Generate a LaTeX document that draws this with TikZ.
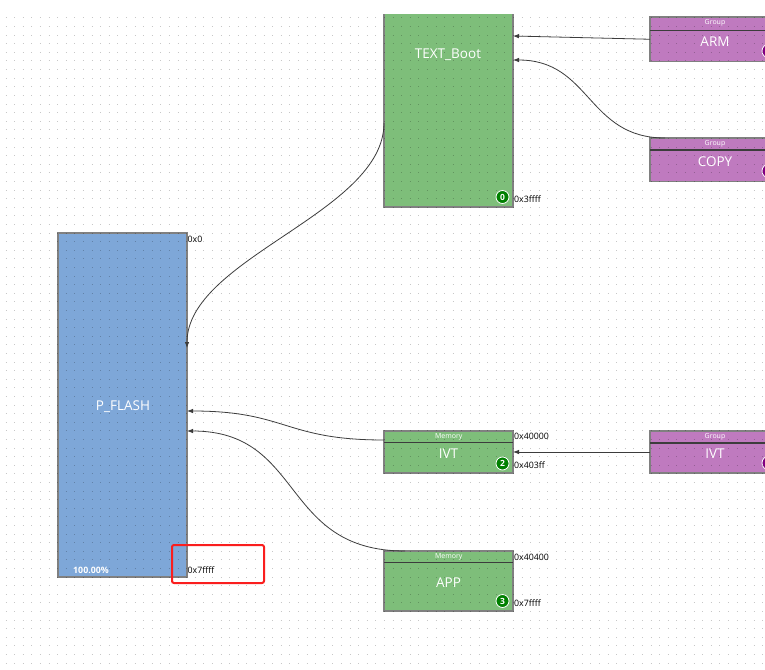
\documentclass[tikz,border=0pt]{standalone}
\usepackage{fontspec}
\setmainfont{Open Sans}
\usetikzlibrary{arrows.meta,calc}
\definecolor{memgreen}{RGB}{126,190,122}
\definecolor{flashblue}{RGB}{126,167,216}
\definecolor{grppurple}{RGB}{191,122,191}
\definecolor{bordergray}{RGB}{128,128,128}
\definecolor{linegray}{RGB}{60,60,60}
\definecolor{badgegreen}{RGB}{0,128,0}
\definecolor{badgepurple}{RGB}{128,0,128}
\definecolor{markred}{RGB}{250,30,30}
\begin{document}
\begin{tikzpicture}[x=1pt,y=-1pt,
  box/.style={draw=bordergray, line width=1.3pt, inner sep=0pt, outer sep=0pt, anchor=north west, minimum width=129pt},
  gbox/.style={box, fill=memgreen},
  pbox/.style={box, fill=grppurple, minimum width=135pt},
  hdrline/.style={draw=linegray, line width=1.3pt},
  conn/.style={draw=linegray, line width=0.8pt, -{Latex[length=6pt,width=4.5pt]}},
  lbl/.style={text=white, inner sep=0pt, font=\fontsize{13.5}{15}\selectfont},
  hdr/.style={text=white, inner sep=0pt, font=\fontsize{7}{8}\selectfont},
  addr/.style={anchor=west, inner sep=0pt, text=black, font=\fontsize{8.8}{10}\selectfont},
  badge/.style={circle, fill=badgegreen, draw=white, line width=0.8pt, minimum size=13pt, inner sep=0pt, text=white, font=\bfseries\fontsize{8.5}{10}\selectfont},
  pbadge/.style={circle, fill=badgepurple, draw=white, line width=0.8pt, minimum size=14pt, inner sep=0pt},
  dotline/.style={draw=black, draw opacity=0.22, line width=1pt, dash pattern=on 1pt off 7.6pt}
]
\useasboundingbox (0,0) rectangle (765,669);
\fill[white] (0,0) rectangle (765,669);
\clip (0,15) rectangle (765,669);

% boxes
\node[gbox, minimum height=197pt] (boot) at (384,10) {};
\node[box, fill=flashblue, minimum height=344pt] (pflash) at (58,233) {};
\node[gbox, minimum height=42pt] (ivt) at (384,431) {};
\node[gbox, minimum height=60pt] (app) at (384,551) {};
\node[pbox, minimum height=44.5pt] (arm) at (650,17) {};
\node[pbox, minimum height=43.5pt] (copy) at (650,138) {};
\node[pbox, minimum height=42pt] (ivtg) at (650,431) {};

% header lines
\draw[hdrline] ($(arm.north west)+(0,13.4)$) -- ($(arm.north east)+(0,13.4)$);
\draw[hdrline] ($(copy.north west)+(0,12)$) -- ($(copy.north east)+(0,12)$);
\draw[hdrline] ($(ivtg.north west)+(0,12)$) -- ($(ivtg.north east)+(0,12)$);
\draw[hdrline] ($(ivt.north west)+(0,11.6)$) -- ($(ivt.north east)+(0,11.6)$);
\draw[hdrline] ($(app.north west)+(0,11.7)$) -- ($(app.north east)+(0,11.7)$);

% purple badges at right edge
\node[pbadge] (armb) at (769,51) {};
\node[pbadge] (copyb) at (769,171) {};
\node[pbadge] (ivtgb) at (769,463) {};

% dot grid
\foreach \r in {0,...,75} {
  \draw[dotline] (5.5,18+\r*8.6) -- (766,18+\r*8.6);
}

% texts
\node[lbl] (bootlbl) at (448,55) {TEXT\_Boot};
\node[lbl] (pflashlbl) at (123,407) {P\_FLASH};
\node[lbl] (ivtlbl) at (448.5,454) {IVT};
\node[lbl] (applbl) at (448.5,583) {APP};
\node[lbl] (armlbl) at (715,41.5) {ARM};
\node[lbl] (copylbl) at (715,162) {COPY};
\node[lbl] (ivtglbl) at (715,454) {IVT};

\node[hdr] (armh) at (715,23.3) {Group};
\node[hdr] (copyh) at (715,144.3) {Group};
\node[hdr] (ivtgh) at (715,436.5) {Group};
\node[hdr] (ivth) at (448.7,436.5) {Memory};
\node[hdr] (apph) at (448.7,556.5) {Memory};

\node[badge] (b0) at (502.5,197) {0};
\node[badge] (b2) at (502.5,463.5) {2};
\node[badge] (b3) at (502.5,601) {3};

\node[inner sep=0pt, text=white, font=\bfseries\fontsize{8.8}{10}\selectfont] (pct) at (91,570) {100.00\%};

\node[addr] (a0) at (187.5,239) {0x0};
\node[addr] (a1) at (187.5,570) {0x7ffff};
\node[addr] (a2) at (514,199.5) {0x3ffff};
\node[addr] (a3) at (514,436) {0x40000};
\node[addr] (a4) at (514,465.5) {0x403ff};
\node[addr] (a5) at (514,557) {0x40400};
\node[addr] (a6) at (514,603.5) {0x7ffff};

% highlight box
\draw[markred, line width=2pt, rounded corners=2pt] (172,545) rectangle (264,583);

% connectors
\draw[conn] ([yshift=-113pt]boot.north west) .. controls +(0,90) and +(0,-90) .. ([yshift=-115pt]pflash.north east);
\draw[conn] (arm.west) -- ([yshift=-26pt]boot.north east);
\draw[conn] ([xshift=15pt]copy.north west) .. controls +(-78,0) and +(78,0) .. ([yshift=-50pt]boot.north east);
\draw[conn] (ivtg.west) -- (ivt.east);
\draw[conn] ([yshift=-9pt]ivt.north west) .. controls +(-100,0) and +(100,0) .. ([yshift=-178pt]pflash.north east);
\draw[conn] ([xshift=21pt]app.north west) .. controls +(-125,0) and +(118,0) .. ([yshift=-198pt]pflash.north east);
\end{tikzpicture}
\end{document}
